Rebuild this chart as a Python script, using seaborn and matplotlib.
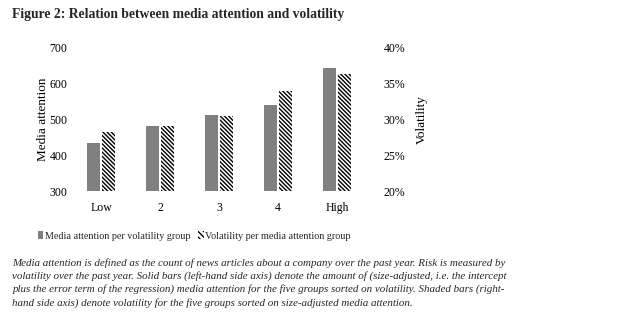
import matplotlib
matplotlib.use("Agg")
import matplotlib.pyplot as plt
import matplotlib.ticker as mticker
from matplotlib.patches import Patch
import seaborn as sns
import pandas as pd
import numpy as np

groups = ["Low", "2", "3", "4", "High"]
media_attention = [433, 481, 513, 540, 643]
volatility = [0.282, 0.2905, 0.305, 0.340, 0.364]
series = ["Media attention per volatility group", "Volatility per media attention group"]
left_ticks = [300, 400, 500, 600, 700]
right_ticks = [0.20, 0.25, 0.30, 0.35, 0.40]

title = "Figure 2: Relation between media attention and volatility"
caption = ("Media attention is defined as the count of news articles about a company over the past year. Risk is measured by\n"
           "volatility over the past year. Solid bars (left-hand side axis) denote the amount of (size-adjusted, i.e. the intercept\n"
           "plus the error term of the regression) media attention for the five groups sorted on volatility. Shaded bars (right-\n"
           "hand side axis) denote volatility for the five groups sorted on size-adjusted media attention.")

sns.set_theme(style="white")
plt.rcParams["font.family"] = ["Liberation Serif", "DejaVu Serif"]
plt.rcParams["hatch.linewidth"] = 1.0

HATCH = "\\" * 8

df_m = pd.DataFrame({"group": groups * 2,
                     "series": [series[0]] * 5 + [series[1]] * 5,
                     "value": media_attention + [np.nan] * 5})
df_v = pd.DataFrame({"group": groups * 2,
                     "series": [series[0]] * 5 + [series[1]] * 5,
                     "value": [np.nan] * 5 + volatility})

fig = plt.figure(figsize=(6.41, 3.26), dpi=100)
ax = fig.add_axes([0.1115, 0.414, 0.4605, 0.439])
ax2 = ax.twinx()

gray = "#808080"
sns.barplot(data=df_m, x="group", y="value", hue="series", hue_order=series,
            order=groups, palette=[gray, "white"], width=0.52, gap=0.15,
            ax=ax, legend=False, errorbar=None, linewidth=0)
sns.barplot(data=df_v, x="group", y="value", hue="series", hue_order=series,
            order=groups, palette=[gray, "white"], width=0.52, gap=0.15,
            ax=ax2, legend=False, errorbar=None, linewidth=0)
for p in ax2.patches:
    p.set_hatch(HATCH)
    p.set_edgecolor("black")
    p.set_facecolor("white")
    p.set_linewidth(0)

ax.set_ylim(300, 700)
ax.set_yticks(left_ticks)
ax2.set_ylim(0.20, 0.40)
ax2.set_yticks(right_ticks)
ax2.yaxis.set_major_formatter(mticker.FuncFormatter(lambda v, p: f"{v*100:.0f}%"))

for a in (ax, ax2):
    for s in a.spines.values():
        s.set_visible(False)
    a.tick_params(length=0, labelsize=8.5, colors="black")
ax.tick_params(axis="x", pad=8)
ax.tick_params(axis="y", pad=3)
ax2.tick_params(axis="y", pad=12)
ax.set_xlabel("")
ax.set_ylabel("Media attention", fontsize=9.5, color="black", labelpad=0)
ax2.set_ylabel("Volatility", fontsize=9.5, color="black", labelpad=8)

handles = [Patch(facecolor=gray, edgecolor="none"),
           Patch(facecolor="white", edgecolor="black", hatch="\\" * 6, linewidth=0)]
fig.legend(handles, series, loc="center left", bbox_to_anchor=(0.059, 0.276), ncol=2,
           frameon=False, fontsize=7.3, handlelength=0.55, handleheight=0.75,
           handletextpad=0.15, columnspacing=0.8, borderpad=0, borderaxespad=0)

fig.text(0.019, 0.955, title, fontsize=9.8, fontweight="bold", ha="left", va="center")
fig.text(0.019, 0.209, caption, fontsize=7.9, style="italic", ha="left", va="top",
         linespacing=1.45)

fig.savefig("out.png", dpi=100)
